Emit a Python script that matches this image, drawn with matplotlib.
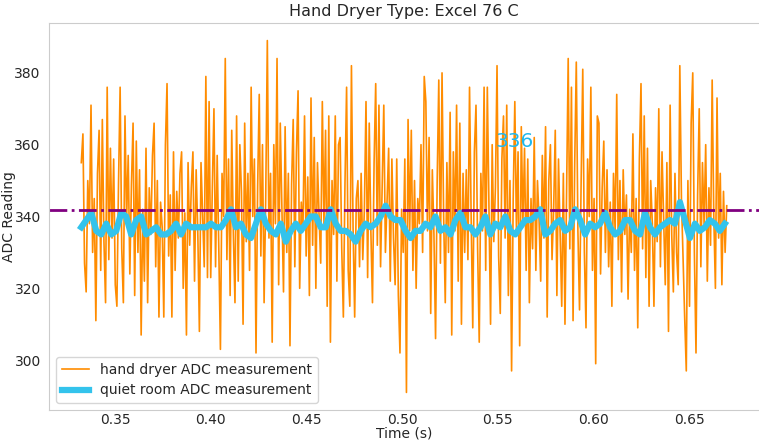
import numpy as np
import matplotlib
matplotlib.use("Agg")
import matplotlib.pyplot as plt

# hand dryer ADC readings
dryer = [
    355, 363, 327, 319, 350, 338, 371, 330, 345, 311, 352, 364, 325, 367, 333, 316, 376, 328, 359, 334,
    356, 321, 315, 349, 376, 331, 316, 368, 339, 357, 324, 349, 366, 318, 361, 330, 353, 307, 342, 322,
    359, 316, 348, 335, 357, 366, 326, 350, 312, 344, 337, 312, 360, 377, 329, 346, 312, 358, 325, 347,
    334, 352, 358, 320, 341, 307, 355, 332, 348, 358, 322, 353, 336, 308, 355, 340, 326, 379, 323, 372,
    323, 348, 370, 326, 357, 331, 303, 352, 340, 384, 328, 356, 318, 364, 335, 316, 368, 322, 360, 347,
    310, 366, 333, 352, 325, 376, 340, 356, 302, 348, 374, 329, 360, 316, 345, 389, 334, 352, 305, 360,
    338, 384, 321, 366, 343, 319, 365, 330, 352, 304, 349, 367, 326, 358, 375, 320, 344, 336, 368, 329,
    351, 318, 373, 332, 362, 320, 355, 340, 327, 372, 338, 364, 315, 368, 305, 350, 335, 368, 322, 360,
    362, 331, 312, 349, 376, 325, 315, 382, 337, 312, 345, 350, 326, 352, 328, 342, 372, 323, 366, 336,
    316, 355, 377, 332, 371, 326, 348, 371, 330, 344, 359, 322, 356, 334, 321, 356, 318, 302, 342, 330,
    356, 291, 367, 336, 364, 325, 350, 320, 345, 338, 360, 330, 379, 372, 336, 362, 313, 353, 335, 306,
    350, 378, 327, 380, 340, 316, 355, 330, 369, 307, 358, 336, 371, 322, 366, 310, 352, 330, 353, 328,
    376, 340, 309, 358, 371, 331, 305, 352, 336, 376, 325, 376, 342, 310, 360, 333, 348, 382, 329, 313,
    356, 368, 334, 371, 318, 350, 297, 345, 372, 336, 358, 304, 365, 338, 359, 325, 356, 316, 345, 331,
    362, 325, 350, 339, 322, 357, 334, 365, 312, 350, 360, 328, 342, 364, 318, 356, 336, 315, 352, 310,
    348, 384, 331, 376, 311, 354, 383, 336, 314, 350, 381, 330, 309, 356, 340, 376, 325, 345, 299, 368,
    366, 324, 348, 361, 330, 353, 326, 344, 315, 352, 336, 374, 328, 350, 319, 353, 335, 346, 317, 342,
    330, 363, 325, 345, 309, 356, 377, 331, 368, 323, 359, 315, 350, 338, 315, 348, 333, 370, 326, 358,
    340, 321, 355, 308, 371, 335, 319, 352, 330, 321, 382, 345, 328, 312, 297, 350, 315, 366, 380, 330,
    302, 346, 370, 326, 355, 338, 360, 322, 348, 332, 378, 340, 320, 373, 334, 352, 321, 347, 330, 343,
]

# quiet room ADC readings
quiet = [
    337, 339, 341, 336, 335, 338, 335, 336, 341, 340, 335, 339, 340, 335, 336, 337, 335, 335, 336, 338,
    335, 338, 337, 337, 337, 337, 338, 337, 337, 339, 342, 337, 338, 335, 334, 338, 342, 338,
    336, 335, 338, 333, 336, 338, 336, 338, 340, 340, 337, 337, 342, 338, 336, 336, 335, 333, 336, 338,
    337, 338, 340, 343, 340, 339, 339, 336, 334, 336, 336, 338, 337, 340, 336, 337, 335, 339, 341, 337,
    337, 335, 337, 340, 335, 338, 337, 340, 336, 335, 337, 339, 339, 340, 342, 335, 336, 338, 339, 336,
    337, 342, 339, 335, 338, 337, 338, 341, 337, 335, 336, 339, 339, 336, 335, 341, 337, 335, 337, 338,
    339, 338, 344, 339, 334, 338, 336, 337, 339, 338, 336, 338,
]

t_start, t_end = 0.3324, 0.6696
threshold = 341.8
label_value = "336"

t_dryer = np.linspace(t_start, t_end, len(dryer))
t_quiet = np.linspace(t_start, t_end - 0.0010, len(quiet))

plt.rcParams['font.family'] = 'DejaVu Sans'
plt.rcParams['text.color'] = '.15'
plt.rcParams['axes.labelcolor'] = '.15'
plt.rcParams['xtick.color'] = '.15'
plt.rcParams['ytick.color'] = '.15'

fig = plt.figure(figsize=(7.59, 4.42), dpi=100)
ax = fig.add_axes([0.0646, 0.0724, 0.9354, 0.8756])

ax.plot(t_dryer, dryer, color='darkorange', lw=1.2, label='hand dryer ADC measurement')
ax.plot(t_quiet, quiet, color='#33c3ec', lw=4.5, label='quiet room ADC measurement')
ax.axhline(threshold, color='purple', ls='-.', lw=2)
ax.text(0.5486, 359.3, label_value, color='#1fb8ee', fontsize=14.5)

ax.set_title('Hand Dryer Type: Excel 76 C', fontsize=11.5, pad=5)
ax.set_xlabel('Time (s)', fontsize=10, labelpad=0)
ax.set_ylabel('ADC Reading', fontsize=10)
ax.yaxis.set_label_coords(-0.047, 0.5)
ax.set_xticks([0.35, 0.40, 0.45, 0.50, 0.55, 0.60, 0.65])
ax.set_yticks([300, 320, 340, 360, 380])
ax.tick_params(length=0, labelsize=10)
ax.tick_params(axis='x', pad=2)
ax.tick_params(axis='y', pad=6)
for s in ax.spines.values():
    s.set_color('.8')
ax.spines['right'].set_visible(False)

ax.legend(loc='lower left', fontsize=10)

fig.savefig('out.png', dpi=100)
